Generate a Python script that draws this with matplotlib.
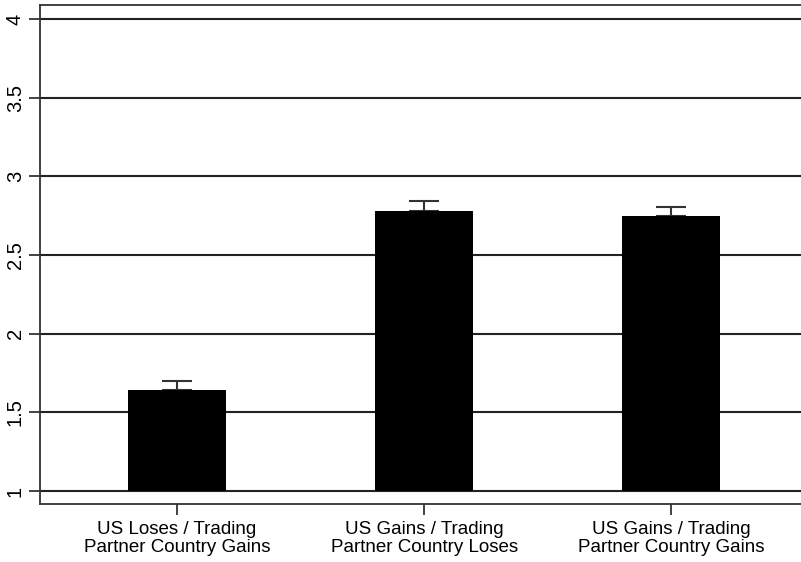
import numpy as np
import matplotlib.pyplot as plt

categories = ['US Loses / Trading\nPartner Country Gains',
              'US Gains / Trading\nPartner Country Loses',
              'US Gains / Trading\nPartner Country Gains']
means = [1.642, 2.78, 2.748]
upper = [1.70, 2.844, 2.805]
yticks = [1, 1.5, 2, 2.5, 3, 3.5, 4]
yticklabels = ['1', '1.5', '2', '2.5', '3', '3.5', '4']

plt.rcParams['font.family'] = ['Liberation Sans', 'DejaVu Sans']

fig = plt.figure(figsize=(8.01, 5.62), dpi=100)
ax = fig.add_axes([40/801, 1 - 504/562, 1 - 40/801, 499/562])

x = np.arange(len(categories))
err = np.array(upper) - np.array(means)
ax.bar(x, np.array(means) - 1, bottom=1, width=0.4, color='black', zorder=3)
ax.errorbar(x, means, yerr=[np.zeros_like(err), err], fmt='none',
            ecolor='#333333', elinewidth=1.5, capsize=11, capthick=1.5, zorder=2)

ax.set_xlim(-0.555, 2.526)
ax.set_ylim(1 - 13/157.3, 4 + 14/157.3)
ax.set_yticks(yticks)
ax.set_yticklabels(yticklabels, rotation=90, va='center', fontsize=14.5)
ax.set_xticks(x)
ax.set_xticklabels(categories, fontsize=13.5, linespacing=1.1)

for yv in yticks:
    ax.axhline(yv, color='#222222', linewidth=1.5, zorder=1)

for side in ['left', 'top', 'bottom']:
    ax.spines[side].set_color('#333333')
    ax.spines[side].set_linewidth(1.3)
ax.spines['right'].set_visible(False)
ax.tick_params(axis='both', length=8, width=1.3, color='#333333')
ax.tick_params(axis='x', pad=4)
ax.tick_params(axis='y', pad=3)

fig.savefig('out.png', dpi=100)
